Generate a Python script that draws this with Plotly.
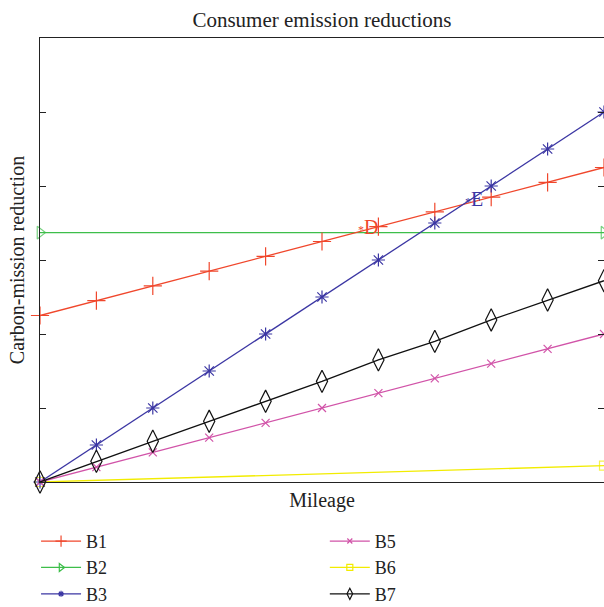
import plotly.graph_objects as go

mileage = [0, 1, 2, 3, 4, 5, 6, 7, 8, 9, 10]
b1 = [2.25, 2.45, 2.65, 2.85, 3.05, 3.25, 3.45, 3.65, 3.85, 4.05, 4.25]
b2 = [3.37, 3.37, 3.37, 3.37, 3.37, 3.37, 3.37, 3.37, 3.37, 3.37, 3.37]
b3 = [0.0, 0.5, 1.0, 1.5, 2.0, 2.5, 3.0, 3.5, 4.0, 4.5, 5.0]
b5 = [0.0, 0.2, 0.4, 0.6, 0.8, 1.0, 1.2, 1.4, 1.6, 1.8, 2.0]
b6 = [0.0, 0.022, 0.044, 0.066, 0.088, 0.11, 0.132, 0.154, 0.176, 0.198, 0.22]
b7 = [0.0, 0.28, 0.55, 0.82, 1.09, 1.36, 1.65, 1.9, 2.19, 2.46, 2.72]
y_ticks = [0, 1, 2, 3, 4, 5, 6]

FONT = "Liberation Serif"
end_only = [11, 0, 0, 0, 0, 0, 0, 0, 0, 0, 11]

fig = go.Figure()

def add(name, y, color, symbol, size, legend, leg_size, width=1.3):
    fig.add_trace(go.Scatter(
        x=mileage, y=y, name=name, mode="lines+markers",
        line=dict(color=color, width=width),
        marker=dict(symbol=symbol, size=size, color=color,
                    line=dict(color=color, width=1.2)),
        showlegend=False, cliponaxis=False, hoverinfo="skip",
    ))
    # legend sample with small marker
    fig.add_trace(go.Scatter(
        x=[None], y=[None], name=name, mode="lines+markers",
        line=dict(color=color, width=width),
        marker=dict(symbol=symbol, size=leg_size, color=color,
                    line=dict(color=color, width=1.2)),
        legend=legend, legendrank=int(name[1:]),
    ))

add("B6", b6, "#F2EC00", "square-open", [9] + [0] * 9 + [9], "legend2", 6)
add("B2", b2, "#3DBE4A", "triangle-right-open", end_only, "legend", 7)
add("B1", b1, "#F0472C", "cross-thin-open", 13, "legend", 8)
add("B3", b3, "#3B36A3", "asterisk-open", 11, "legend", 5)
add("B5", b5, "#D153A8", "x-thin-open", 8, "legend2", 5)
add("B7", b7, "#111111", "diamond-tall-open", 16, "legend2", 8)

fig.add_annotation(x=5.6, y=3.45, xref="x", yref="y",
                   text="<span style='font-size:12px'>*</span>D",
                   showarrow=False, xanchor="left", yanchor="middle",
                   font=dict(family=FONT, size=20, color="#F0472C"))
fig.add_annotation(x=7.5, y=3.82, xref="x", yref="y",
                   text="<span style='font-size:12px'>*</span>E",
                   showarrow=False, xanchor="left", yanchor="middle",
                   font=dict(family=FONT, size=20, color="#3B36A3"))

fig.update_layout(
    width=604, height=607,
    margin=dict(l=40, r=0, t=38, b=125, autoexpand=False),
    paper_bgcolor="white", plot_bgcolor="white",
    font=dict(family=FONT, size=18, color="#222222"),
    title=dict(text="Consumer emission reductions", x=0.533, xanchor="center",
               y=0.967, yanchor="middle",
               font=dict(family=FONT, size=21, color="#222222")),
    xaxis=dict(range=[0, 10], showgrid=False, zeroline=False,
               showline=True, linecolor="#222222", linewidth=1.2, mirror=True,
               ticks="", showticklabels=False, automargin=False,
               title=dict(text="Mileage", standoff=10,
                          font=dict(family=FONT, size=20))),
    yaxis=dict(range=[0, 6], tickvals=y_ticks, showgrid=False, zeroline=False,
               showline=True, linecolor="#222222", linewidth=1.2, mirror="ticks",
               ticks="inside", ticklen=6, tickcolor="#222222",
               showticklabels=False, automargin=False,
               title=dict(text="Carbon-mission reduction", standoff=8,
                          font=dict(family=FONT, size=20))),
    legend=dict(x=-0.007, y=-0.092, xanchor="left", yanchor="top",
                xref="paper", yref="paper", orientation="v",
                font=dict(family=FONT, size=18), tracegroupgap=0,
                itemwidth=40, bgcolor="rgba(0,0,0,0)"),
    legend2=dict(x=0.505, y=-0.092, xanchor="left", yanchor="top",
                 xref="paper", yref="paper", orientation="v",
                 font=dict(family=FONT, size=18), tracegroupgap=0,
                 itemwidth=40, bgcolor="rgba(0,0,0,0)"),
    showlegend=True,
)

fig.write_html("out.html", config={"displayModeBar": False},
               post_script="document.body.style.margin='0';document.body.style.overflow='hidden';")
